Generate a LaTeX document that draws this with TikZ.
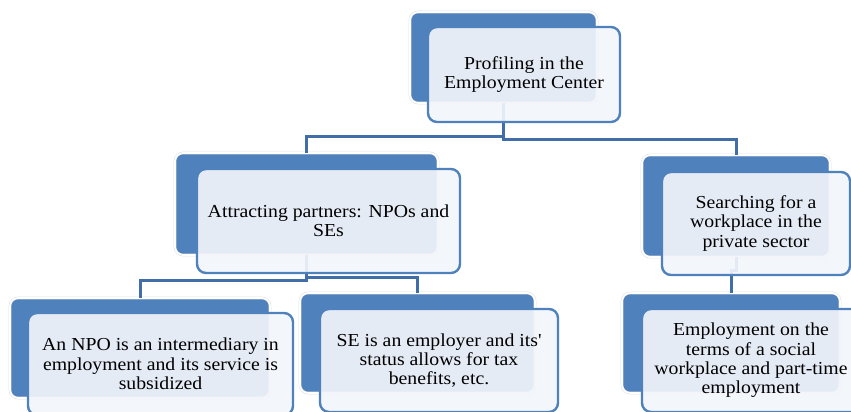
\documentclass[tikz,border=0pt]{standalone}
\usepackage{fontspec}
\setmainfont[FakeStretch=1.08]{Liberation Serif}
\usepackage{tikz}
\usetikzlibrary{positioning,calc}
\definecolor{boxblue}{RGB}{79,129,189}
\definecolor{linkblue}{RGB}{66,110,168}
\definecolor{frontfill}{RGB}{242,245,250}
\tikzset{
  backbox/.style={rectangle, rounded corners=8pt, fill=boxblue, draw=black!12,
    line width=0.5pt, double=white, double distance=1.6pt, inner sep=0pt},
  frontbox/.style={rectangle, rounded corners=9pt, draw=boxblue, line width=2.4pt,
    fill=frontfill, fill opacity=0.92, text opacity=1, align=center, inner sep=4pt,
    font=\fontsize{18.3}{19.3}\selectfont},
  link/.style={draw=linkblue, line width=3pt}
}

\begin{document}
\begin{tikzpicture}[x=1pt, y=-1pt]
    \useasboundingbox (0,0) rectangle (851,412);
    \clip (0,0) rectangle (851,412);

    \node[backbox, minimum width=187pt, minimum height=91pt]  (profBack)   at (503.5,57.5) {};
    \node[backbox, minimum width=263pt, minimum height=102pt] (partBack)   at (306.5,204)  {};
    \node[backbox, minimum width=188pt, minimum height=102pt] (searchBack) at (736,206)    {};
    \node[backbox, minimum width=260pt, minimum height=100pt] (npoBack)    at (140,348)    {};
    \node[backbox, minimum width=235pt, minimum height=100pt] (seBack)     at (417.5,343)  {};
    \node[backbox, minimum width=218pt, minimum height=100pt] (empBack)    at (731,343)    {};

    \draw[link] (profBack.south) |- ([yshift=16pt]partBack.north) -- (partBack.north);
    \draw[link] (profBack.south) |- ([yshift=15pt]searchBack.north) -- (searchBack.north);
    \draw[link] (partBack.south) |- ([yshift=17pt]npoBack.north) -- (npoBack.north);
    \draw[link] (partBack.south) |- ([yshift=15pt]seBack.north) -- (seBack.north);
    \draw[link] (searchBack.south) |- ([yshift=22pt]empBack.north) -- (empBack.north);

    \node[frontbox, minimum width=192pt, minimum height=95pt] (profFront) at (524,74.5)
        {Profiling in the\\Employment Center};
    \node[frontbox, minimum width=263pt, minimum height=104pt] (partFront) at (328.5,221)
        {Attracting partners: NPOs and\\SEs};
    \node[frontbox, minimum width=188pt, minimum height=103pt] (searchFront) at (756,223.5)
        {Searching for a\\workplace in the\\private sector};
    \node[frontbox, minimum width=265pt, minimum height=102pt] (npoFront) at (160.5,364)
        {An NPO is an intermediary in\\employment and its service is\\subsidized};
    \node[frontbox, minimum width=238pt, minimum height=103pt] (seFront) at (439,360.5)
        {SE is an employer and its\textquotesingle\\status allows for tax\\benefits, etc.};
    \node[frontbox, minimum width=218pt, minimum height=103pt] (empFront) at (751,360.5)
        {Employment on the\\terms of a social\\workplace and part-time\\employment};
\end{tikzpicture}
\end{document}
